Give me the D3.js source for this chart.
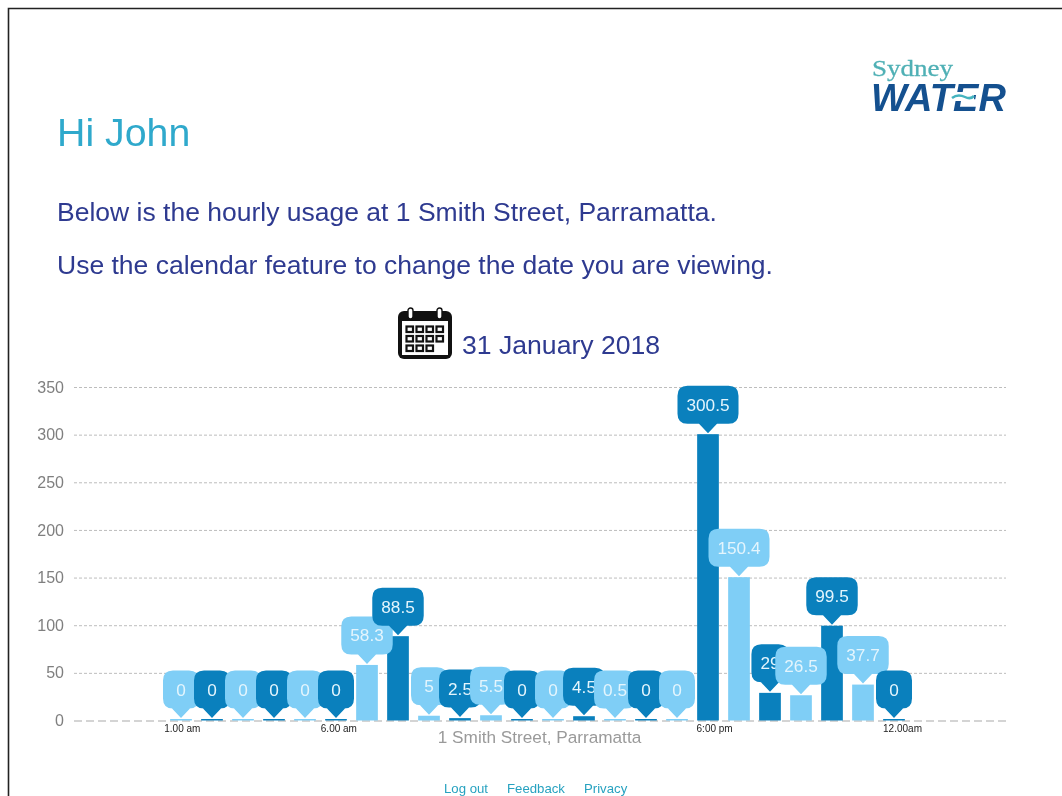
<!DOCTYPE html>
<html>
<head>
<meta charset="utf-8">
<script src="https://cdn.jsdelivr.net/npm/d3@7/dist/d3.min.js"></script>
<style>
html,body{margin:0;padding:0;background:#fff;overflow:hidden}
svg{display:block;font-family:"Liberation Sans",Arial,sans-serif;filter:blur(0.35px)}
</style>
</head>
<body>
<svg id="c" width="1062" height="796"></svg>
<script>
const hours = ["1.00 am","2.00 am","3.00 am","4.00 am","5.00 am","6.00 am","7.00 am","8.00 am","9.00 am","10.00 am","11.00 am","12.00 pm","1.00 pm","2.00 pm","3.00 pm","4.00 pm","5.00 pm","6:00 pm","7.00 pm","8.00 pm","9.00 pm","10.00 pm","11.00 pm","12.00am"];
const usage = [0,0,0,0,0,0,58.3,88.5,5,2.5,5.5,0,0,4.5,0.5,0,0,300.5,150.4,29,26.5,99.5,37.7,0];
const yTicks = [0,50,100,150,200,250,300,350];
const shownHours = ["1.00 am","6.00 am","6:00 pm","12.00am"];
const palette = ["#7fcef6","#0a80bd"];

const svg = d3.select("#c");

// page frame
svg.append("path").attr("d","M8.5,796V8.5H1062").attr("fill","none").attr("stroke","#222").attr("stroke-width",1.6);

// header text
svg.append("text").attr("x",57).attr("y",146).attr("font-size",39.3).attr("fill","#2fa9cc").text("Hi John");
svg.append("text").attr("x",57).attr("y",221).attr("font-size",26.5).attr("fill","#2e3a90").text("Below is the hourly usage at 1 Smith Street, Parramatta.");
svg.append("text").attr("x",57).attr("y",274).attr("font-size",26.5).attr("fill","#2e3a90").text("Use the calendar feature to change the date you are viewing.");
svg.append("text").attr("x",462).attr("y",354).attr("font-size",26.6).attr("fill","#2e3a90").text("31 January 2018");

// logo
const logo = svg.append("g");
logo.append("text").attr("x",872).attr("y",76).attr("font-family","'Liberation Serif',serif").attr("font-size",23.5).attr("fill","#4fb0b5").attr("stroke","#4fb0b5").attr("stroke-width",0.3).attr("textLength",81).attr("lengthAdjust","spacingAndGlyphs").text("Sydney");
logo.append("text").attr("x",871).attr("y",111).attr("font-size",38).attr("font-weight",700).attr("font-style","italic").attr("fill","#14508f").attr("textLength",135).attr("lengthAdjust","spacing").text("WATER");
logo.append("rect").attr("x",950).attr("y",92).attr("width",24).attr("height",9).attr("fill","#fff");
logo.append("path").attr("d","M952,98c5,-4 9,-3 13,-1s7,1 9,-1").attr("fill","none").attr("stroke","#45b4bf").attr("stroke-width",2.5);

// calendar icon
const cal = svg.append("g").attr("transform","translate(398,308)");
cal.append("rect").attr("y",3).attr("width",54).attr("height",48).attr("rx",6).attr("fill","#111");
cal.append("rect").attr("x",4).attr("y",13).attr("width",46).attr("height",34).attr("fill","#fff");
[10,39].forEach(px=>{
  cal.append("rect").attr("x",px).attr("y",0).attr("width",5).attr("height",11).attr("rx",2.5).attr("fill","#fff").attr("stroke","#111").attr("stroke-width",1.4);
});
for(let r=0;r<3;r++) for(let k=0;k<4;k++){
  if(r===2 && k===3) continue;
  cal.append("rect").attr("x",8.5+k*10).attr("y",18.5+r*9.5).attr("width",6.5).attr("height",5.5).attr("fill","none").attr("stroke","#111").attr("stroke-width",2.2);
}

// scales
const x = d3.scaleBand().domain(hours).range([165.5,909.5]).paddingInner(0.3).paddingOuter(0.15);
const y = d3.scaleLinear().domain([0,350]).range([720.5,387]);
const xLabel = d3.scalePoint().domain(hours).range([181.8,902]);

// y axis + gridlines
const yAxis = d3.axisLeft(y).tickValues(yTicks).tickSize(-932).tickPadding(10);
const gy = svg.append("g").attr("transform","translate(74,0)").call(yAxis);
gy.select(".domain").remove();
gy.selectAll(".tick line").attr("stroke","#bdbdbd").attr("stroke-dasharray","3 2");
gy.selectAll(".tick text").attr("font-size",16).attr("font-family","'Liberation Sans',Arial,sans-serif").attr("fill","#7f7f7f");
gy.selectAll(".tick").filter(d=>d===0).select("line").attr("stroke","#a9a9a9").attr("stroke-dasharray","8 4").attr("stroke-width",1.2);

// x axis labels
const xAxis = d3.axisBottom(xLabel).tickValues(shownHours).tickSize(0).tickPadding(4);
const gx = svg.append("g").attr("transform","translate(0,720.5)").call(xAxis);
gx.select(".domain").remove();
gx.selectAll(".tick text").attr("font-size",10).attr("font-family","'Liberation Sans',Arial,sans-serif").attr("fill","#222");

svg.append("text").attr("x",539.5).attr("y",743).attr("text-anchor","middle").attr("font-size",17.2).attr("fill","#9a9a9a").text("1 Smith Street, Parramatta");

// bars
svg.append("g").selectAll("rect").data(usage).join("rect")
  .attr("x",(d,i)=>x(hours[i]))
  .attr("width",x.bandwidth())
  .attr("y",d=>Math.min(y(d),y(0)-1.5))
  .attr("height",d=>Math.max(y(0)-y(d),1.5))
  .attr("fill",(d,i)=>palette[i%2]);

// callouts, painted left to right
function bubble(w){
  const h=38,r=10,t=9.5,b=9,l=-w/2,R=w/2,B=-t,T=-t-h;
  return `M0,0L${-b},${B}H${l+r}Q${l},${B} ${l},${B-r}V${T+r}Q${l},${T} ${l+r},${T}H${R-r}Q${R},${T} ${R},${T+r}V${B-r}Q${R},${B} ${R-r},${B}H${b}Z`;
}
const tags = svg.append("g").selectAll("g").data(usage).join("g")
  .attr("transform",(d,i)=>`translate(${x(hours[i])+x.bandwidth()/2},${Math.min(y(d),y(0)-1.5)-1})`);
tags.append("text").attr("text-anchor","middle").attr("y",-22.5).attr("font-size",17.2).attr("fill","#e4f5fd").text(d=>d);
tags.each(function(d,i){
  const g = d3.select(this);
  const w = Math.max(36, g.select("text").node().getComputedTextLength()+18);
  g.insert("path","text").attr("d",bubble(w)).attr("fill",palette[i%2]);
});

// footer
const links = [["Log out",444],["Feedback",507],["Privacy",584]];
svg.append("g").selectAll("text").data(links).join("text")
  .attr("x",d=>d[1]).attr("y",793).attr("font-size",13.2).attr("fill","#27a2c0").text(d=>d[0]);
</script>
</body>
</html>
